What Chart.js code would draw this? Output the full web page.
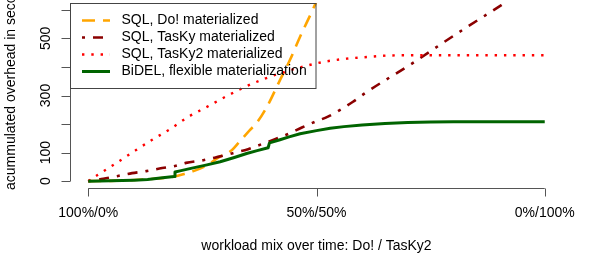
<!DOCTYPE html>
<html>
<head>
<meta charset="utf-8">
<script src="https://cdn.jsdelivr.net/npm/chart.js@4/dist/chart.umd.min.js"></script>
<style>
html,body{margin:0;padding:0;background:#fff;}
#wrap{width:598px;height:275px;}
</style>
</head>
<body>
<div id="wrap"><canvas id="c" width="598" height="275"></canvas></div>
<script>
// ---- data (x = fraction of workload mix from 100%/0% to 0%/100%) ----
const seriesLabels = [
  "SQL, Do! materialized",
  "SQL, TasKy materialized",
  "SQL, TasKy2 materialized",
  "BiDEL, flexible materialization"
];
const doX  = [0, 0.05, 0.1, 0.15, 0.188, 0.21, 0.232, 0.267, 0.282, 0.315, 0.328, 0.354, 0.369, 0.392, 0.42, 0.442, 0.464, 0.49, 0.5];
const doY  = [0, 1, 4, 9, 16, 25, 36, 62, 80, 109, 132, 179, 204, 262, 354, 425, 506, 594, 630];
const taskyX = [0, 0.033, 0.063, 0.096, 0.127, 0.162, 0.19, 0.214, 0.254, 0.284, 0.317, 0.35, 0.379, 0.409, 0.438, 0.468, 0.497, 0.525, 0.554, 0.58, 0.608, 0.716, 0.77, 0.823, 0.877, 0.95, 1.0];
const taskyY = [0, 8, 17.5, 28, 35, 46, 53, 64, 74, 85, 98, 112, 129, 147, 165, 188, 208, 226, 252, 278, 310, 419, 477, 533, 588, 662, 714];
const tasky2X = [0, 0.021, 0.061, 0.099, 0.139, 0.179, 0.219, 0.26, 0.301, 0.342, 0.385, 0.429, 0.475, 0.52, 0.566, 0.613, 0.659, 0.726, 1.0];
const tasky2Y = [0, 22, 63, 103, 144, 182, 225, 260, 296, 329, 358, 382, 403, 419, 429, 435, 440, 441, 441];
const bidelX = [0, 0.05, 0.1, 0.13, 0.158, 0.188, 0.19, 0.201, 0.22, 0.24, 0.26, 0.289, 0.32, 0.347, 0.37, 0.394, 0.397, 0.42, 0.44, 0.464, 0.5, 0.53, 0.56, 0.6, 0.65, 0.7, 0.75, 0.8, 1.0];
const bidelY = [0, 1, 3.5, 6, 11, 16.5, 32, 36, 43, 50, 57, 68, 83, 97, 107, 117, 134, 145, 155, 166, 177, 185, 191, 197, 202, 205.5, 207, 208, 208];
const xTickValues = [0, 0.5, 1];
const xTickLabels = ["100%/0%", "50%/50%", "0%/100%"];
const yTickValues = [0, 100, 200, 300, 400, 500, 600];
const yTickLabels = ["0", "100", "", "300", "", "500", ""];
const xTitle = "workload mix over time: Do! / TasKy2";
const yTitle = "acummulated overhead in seconds";

const pts = (xs, ys) => xs.map((x, i) => ({x: x, y: ys[i]}));
const FONT = '"Liberation Sans", Arial, Helvetica, sans-serif';

const datasets = [
  {label: seriesLabels[0], data: pts(doX, doY), borderColor: "#FFA500", borderWidth: 2.6, borderDash: [13, 8], order: 3, cubicInterpolationMode: "monotone"},
  {label: seriesLabels[1], data: pts(taskyX, taskyY), borderColor: "#8B0000", borderWidth: 2.6, borderDash: [3, 8, 10, 8], order: 2, cubicInterpolationMode: "monotone"},
  {label: seriesLabels[2], data: pts(tasky2X, tasky2Y), borderColor: "#FF0000", borderWidth: 2.4, borderDash: [2.4, 6.9], order: 1, cubicInterpolationMode: "monotone"},
  {label: seriesLabels[3], data: pts(bidelX, bidelY), borderColor: "#006400", borderWidth: 3, borderDash: [], order: 0, tension: 0}
];
datasets.forEach(d => {
  d.pointRadius = 0;
  d.fill = false;
  d.borderCapStyle = "butt";
  d.borderJoinStyle = "round";
});

const rAxes = {
  id: "rAxes",
  afterDraw(chart) {
    const ctx = chart.ctx;
    const xs = chart.scales.x, ys = chart.scales.y;
    const area = chart.chartArea;
    ctx.save();
    ctx.strokeStyle = "#555";
    ctx.lineWidth = 1;
    ctx.fillStyle = "#000";
    ctx.font = "14px " + FONT;
    // y axis
    const yx = Math.round(area.left) + 0.5;
    const y0 = ys.getPixelForValue(yTickValues[0]);
    const y1 = ys.getPixelForValue(yTickValues[yTickValues.length - 1]);
    ctx.beginPath();
    ctx.moveTo(yx, y0); ctx.lineTo(yx, y1);
    yTickValues.forEach(v => {
      const p = Math.round(ys.getPixelForValue(v)) + 0.5;
      ctx.moveTo(yx, p); ctx.lineTo(yx - 9, p);
    });
    ctx.stroke();
    ctx.textAlign = "center"; ctx.textBaseline = "middle";
    yTickValues.forEach((v, i) => {
      if (!yTickLabels[i]) return;
      const p = ys.getPixelForValue(v);
      ctx.save(); ctx.translate(46, p); ctx.rotate(-Math.PI / 2);
      ctx.fillText(yTickLabels[i], 0, 0); ctx.restore();
    });
    // x axis
    const xy = Math.round(area.bottom) + 0.5;
    const xa = xs.getPixelForValue(xTickValues[0]);
    const xb = xs.getPixelForValue(xTickValues[xTickValues.length - 1]);
    ctx.beginPath();
    ctx.moveTo(xa, xy); ctx.lineTo(xb, xy);
    xTickValues.forEach(v => {
      const p = Math.round(xs.getPixelForValue(v)) + 0.5;
      ctx.moveTo(p, xy); ctx.lineTo(p, xy + 8);
    });
    ctx.stroke();
    xTickValues.forEach((v, i) => {
      ctx.fillText(xTickLabels[i], xs.getPixelForValue(v), 213);
    });
    // titles
    ctx.fillText(xTitle, (xa + xb) / 2, 246);
    ctx.save(); ctx.translate(11, 190); ctx.rotate(-Math.PI / 2);
    ctx.textAlign = "left";
    ctx.fillText(yTitle, 0, 0); ctx.restore();
    // legend (transparent box)
    ctx.strokeStyle = "#444";
    ctx.strokeRect(yx, 3.5, 245.5, 85);
    chart.data.datasets.forEach((d, i) => {
      const ry = 20.5 + i * 17;
      ctx.save();
      ctx.strokeStyle = d.borderColor;
      ctx.lineWidth = d.borderWidth;
      ctx.setLineDash(d.borderDash || []);
      ctx.beginPath(); ctx.moveTo(82, ry); ctx.lineTo(110, ry); ctx.stroke();
      ctx.restore();
      ctx.textAlign = "left";
      ctx.fillText(d.label, 121.5, ry);
    });
    ctx.restore();
  }
};

new Chart(document.getElementById("c"), {
  type: "line",
  data: {datasets: datasets},
  options: {
    responsive: false,
    animation: false,
    devicePixelRatio: 1,
    layout: {padding: {left: 70, right: 35, top: 3, bottom: 87}},
    plugins: {legend: {display: false}, tooltip: {enabled: false}},
    scales: {
      x: {type: "linear", min: -0.04, max: 1.04, display: false},
      y: {type: "linear", min: -24, max: 624, display: false}
    }
  },
  plugins: [rAxes]
});
</script>
</body>
</html>
